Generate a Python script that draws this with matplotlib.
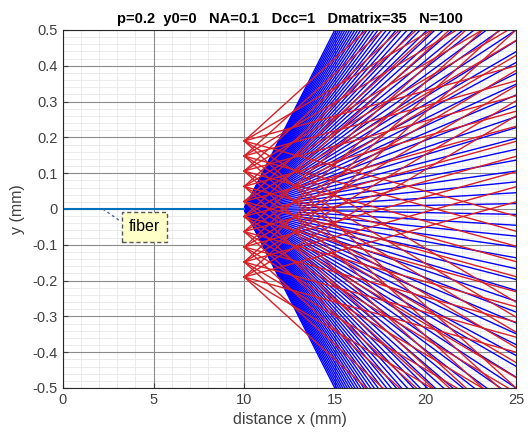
import numpy as np
import matplotlib
matplotlib.use("Agg")
from matplotlib import pyplot as plt
from matplotlib.ticker import FuncFormatter

plt.rcParams['font.family'] = ['Liberation Sans', 'DejaVu Sans']

# parameters from the title
p, y0, NA, Dcc, Dmatrix, N = 0.2, 0, 0.1, 1, 35, 100

x_tip = 10.0       # fiber end
x_end = 25.0

# fiber (drawn along the axis)
fiber_x = [0, 10]
fiber_y = [0, 0]

# blue fan from the fiber tip
blue_slopes = np.linspace(-NA, NA, N)

# red rays: start heights at x=10 and their slopes
red_y0 = [-0.19, -0.148, -0.106, -0.063, -0.021, 0.021, 0.063, 0.106, 0.148, 0.19]
red_slopes = [-0.046, -0.03, -0.014, 0.014, 0.03, 0.046]

# grid positions
x_major = [0, 5, 10, 15, 20, 25]
y_major = [-0.5, -0.4, -0.3, -0.2, -0.1, 0, 0.1, 0.2, 0.3, 0.4, 0.5]


def tick_fmt(v, pos):
    if abs(v) < 1e-9:
        return "0"
    return ("%.1f" % v)


fig = plt.figure(figsize=(5.31, 4.34), dpi=100)
ax = fig.add_axes([0.1186, 0.106, 0.8532, 0.8249])

# grid drawn by hand so minor lines stay under major ones
for gx in np.arange(0, 25.01, 1):
    ax.axvline(gx, color="#e8e8e8", lw=0.6, zorder=0.5)
for gy in np.arange(-0.5, 0.501, 0.02):
    ax.axhline(gy, color="#e8e8e8", lw=0.6, zorder=0.5)
for gx in x_major:
    ax.axvline(gx, color="#8a8a8a", lw=0.8, zorder=1)
for gy in y_major:
    ax.axhline(gy, color="#8a8a8a", lw=0.8, zorder=1)

xs = np.array([x_tip, x_end])
for s in blue_slopes:
    ax.plot(xs, y0 + s * (xs - x_tip), color=(0, 0, 1), lw=1.0, zorder=3)

for yy in red_y0:
    for s in red_slopes:
        ax.plot(xs, yy + s * (xs - x_tip), color="#d81f26", lw=1.0, zorder=4)

ax.plot(fiber_x, fiber_y, color="#0072BD", lw=1.5, zorder=5)

# "fiber" label with dashed connector
ax.plot([2.2, 3.2], [0, -0.035], color="#4a6a8a", lw=1, ls=(0, (2, 2)), zorder=6)
ax.text(4.5, -0.05, "fiber", fontsize=11.5, ha="center", va="center", zorder=7,
        bbox=dict(boxstyle="square,pad=0.45", fc="#ffffc8", ec="#555555",
                  ls=(0, (3, 2)), lw=1))

ax.set_xlim(0, 25)
ax.set_ylim(-0.5, 0.5)
ax.set_xticks(x_major)
ax.set_yticks(y_major)
ax.yaxis.set_major_formatter(FuncFormatter(tick_fmt))

ax.tick_params(which="both", direction="in", colors="#404040", labelsize=10.5)
for sp in ax.spines.values():
    sp.set_color("#262626")
    sp.set_linewidth(0.8)
    sp.set_zorder(8)

ax.set_xlabel("distance x (mm)", fontsize=11.5, color="#404040")
ax.set_ylabel("y (mm)", fontsize=11.5, color="#404040", labelpad=6)
ax.set_title("p=0.2  y0=0   NA=0.1   Dcc=1   Dmatrix=35   N=100",
             fontsize=10.5, fontweight="bold", pad=5)

fig.savefig("out.png", dpi=100)
